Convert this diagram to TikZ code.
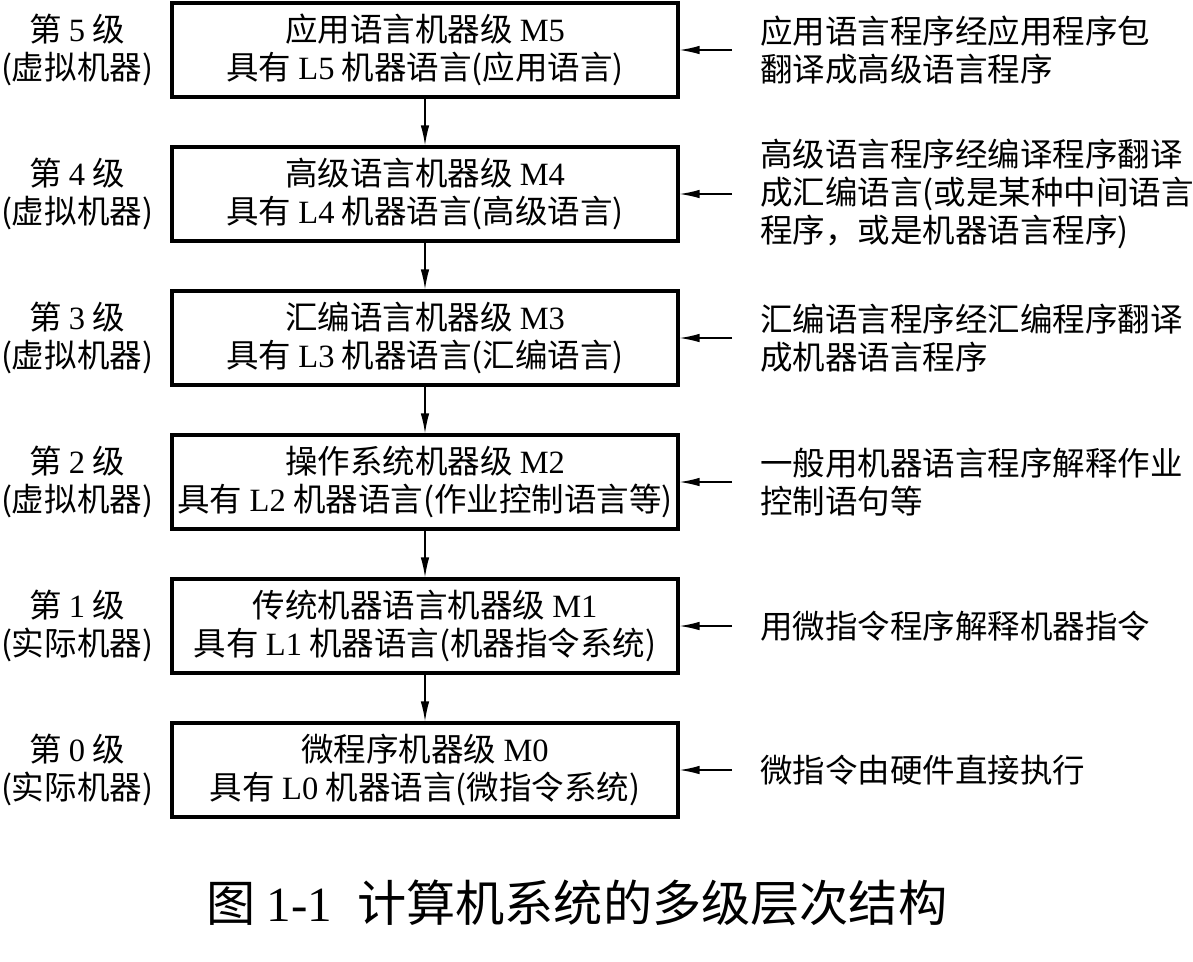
\documentclass[tikz,border=0pt]{standalone}
\usepackage{fontspec}
\setmainfont{Noto Sans CJK SC}
\newfontfamily\lat{Liberation Serif}
\usepackage{tikz}
\usetikzlibrary{arrows.meta, positioning}

\begin{document}
\begin{tikzpicture}[x=0.02cm, y=-0.02cm,
  level/.style={rectangle, draw, line width=1.8pt, minimum width=10.12cm, minimum height=1.88cm, align=center, inner sep=0pt, font=\fontsize{18.5}{21.6}\selectfont},
  tag/.style={align=center, font=\fontsize{18.5}{21.6}\selectfont},
  note/.style={anchor=west, align=left, inner sep=0pt, font=\fontsize{18.5}{21.6}\selectfont},
  arrow/.style={-{Latex[length=4mm, width=1.7mm]}, line width=0.8pt}
]
 \useasboundingbox (0,0) rectangle (1193,961);

 % Machine levels
 \node[level] (m5) at (425,50) {应用语言机器级 {\lat M5}\\具有 {\lat L5} 机器语言(应用语言)};
 \node[level] (m4) at (425,194) {高级语言机器级 {\lat M4}\\具有 {\lat L4} 机器语言(高级语言)};
 \node[level] (m3) at (425,338) {汇编语言机器级 {\lat M3}\\具有 {\lat L3} 机器语言(汇编语言)};
 \node[level] (m2) at (425,482) {操作系统机器级 {\lat M2}\\具有 {\lat L2} 机器语言(作业控制语言等)};
 \node[level] (m1) at (425,626) {传统机器语言机器级 {\lat M1}\\具有 {\lat L1} 机器语言(机器指令系统)};
 \node[level] (m0) at (425,770) {微程序机器级 {\lat M0}\\具有 {\lat L0} 机器语言(微指令系统)};
 \draw[arrow] (m5) -- (m4);
 \draw[arrow] (m4) -- (m3);
 \draw[arrow] (m3) -- (m2);
 \draw[arrow] (m2) -- (m1);
 \draw[arrow] (m1) -- (m0);

 % Level tags
 \node[tag] (g5) at (77,50) {第 {\lat 5} 级\\(虚拟机器)};
 \node[tag] (g4) at (77,194) {第 {\lat 4} 级\\(虚拟机器)};
 \node[tag] (g3) at (77,338) {第 {\lat 3} 级\\(虚拟机器)};
 \node[tag] (g2) at (77,482) {第 {\lat 2} 级\\(虚拟机器)};
 \node[tag] (g1) at (77,626) {第 {\lat 1} 级\\(实际机器)};
 \node[tag] (g0) at (77,770) {第 {\lat 0} 级\\(实际机器)};

 % Translation notes
 \node[note] (t5) at (760,50) {应用语言程序经应用程序包\\翻译成高级语言程序};
 \node[note] (t4) at (760,194) {高级语言程序经编译程序翻译\\成汇编语言(或是某种中间语言\\程序，或是机器语言程序)};
 \node[note] (t3) at (760,338) {汇编语言程序经汇编程序翻译\\成机器语言程序};
 \node[note] (t2) at (760,482) {一般用机器语言程序解释作业\\控制语句等};
 \node[note] (t1) at (760,626) {用微指令程序解释机器指令};
 \node[note] (t0) at (760,770) {微指令由硬件直接执行};
 \coordinate (d5) at (732,50);
 \coordinate (d4) at (732,194);
 \coordinate (d3) at (732,338);
 \coordinate (d2) at (732,482);
 \coordinate (d1) at (732,626);
 \coordinate (d0) at (732,770);
 \draw[arrow] (d5) -- (m5.east);
 \draw[arrow] (d4) -- (m4.east);
 \draw[arrow] (d3) -- (m3.east);
 \draw[arrow] (d2) -- (m2.east);
 \draw[arrow] (d1) -- (m1.east);
 \draw[arrow] (d0) -- (m0.east);

 \node[font=\fontsize{28}{32}\selectfont] (cap) at (577,903) {图 {\lat 1-1}\enspace 计算机系统的多级层次结构};
\end{tikzpicture}
\end{document}
